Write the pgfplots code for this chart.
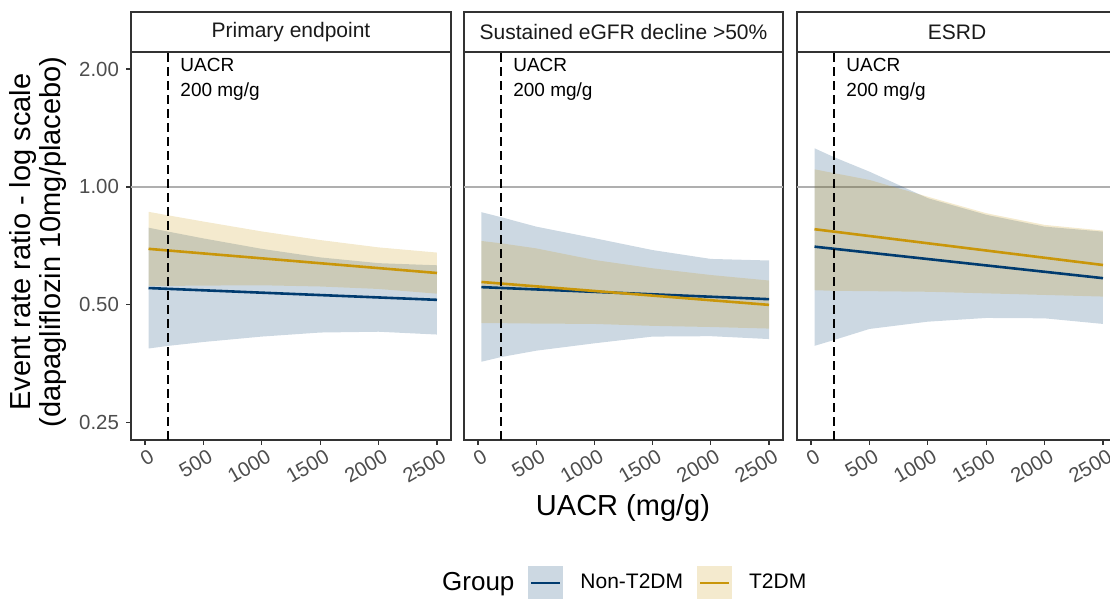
\documentclass[border=0pt]{standalone}
\usepackage{pgfplots}
\pgfplotsset{compat=1.18}
\usepackage{fontspec}
\setmainfont{Liberation Sans}
\definecolor{navyl}{RGB}{0,59,111}
\definecolor{goldl}{RGB}{201,150,10}
\definecolor{tickgray}{RGB}{77,77,77}
\definecolor{framegray}{RGB}{51,51,51}
\definecolor{refgray}{RGB}{175,175,175}
\definecolor{striptext}{RGB}{26,26,26}

\pgfplotsset{
  myfacet/.style={
    scale only axis, width=160pt, height=194pt,
    xmin=-120, xmax=2620, ymin=0.226, ymax=2.21,
    xtick={0,500,1000,1500,2000,2500},
    xticklabels={0,500,1000,1500,2000,2500},
    xtick pos=left, ytick pos=left,
    tick align=outside, major tick length=2.5pt,
    tick style={framegray, line width=0.6pt},
    axis line style={framegray, line width=0.6pt},
    xticklabel style={rotate=30, anchor=north east, xshift=4pt, yshift=1pt, font=\fontsize{10.2}{12}\selectfont, text=tickgray},
    yticklabel style={font=\fontsize{10.2}{12}\selectfont, text=tickgray},
  },
  mybandnavy/.style={draw=none, fill=navyl, fill opacity=0.2, forget plot},
  mybandgold/.style={draw=none, fill=goldl, fill opacity=0.2, forget plot},
  mylinenavy/.style={navyl, line width=1.3pt, forget plot},
  mylinegold/.style={goldl, line width=1.3pt, forget plot},
  myrefline/.style={refgray, line width=0.7pt, forget plot},
  myvdash/.style={black, line width=1pt, dash pattern=on 4.5pt off 2.5pt, forget plot},
}
\newcommand{\uacrnote}{%
  \node[anchor=west, inner sep=0pt, font=\fontsize{9.5}{11}\selectfont] at (axis cs:300,2.05) {UACR};
  \node[anchor=west, inner sep=0pt, font=\fontsize{9.5}{11}\selectfont] at (axis cs:300,1.75) {200 mg/g};
}
\newcommand{\strip}[2]{%
  \draw[framegray, line width=0.6pt, fill=white] (#1.north west) rectangle ([yshift=20pt]#1.north east);
  \node[font=\fontsize{10.5}{12}\selectfont, text=striptext] at ([yshift=10pt]#1.north) {#2};
}

\begin{document}
\begin{tikzpicture}
\useasboundingbox (0,0) rectangle (555pt,299.5pt);
\clip (0,0) rectangle (555pt,299.5pt);

% ---------- Panel 1: Primary endpoint ----------
\begin{axis}[ymode=log, myfacet, name=p1, at={(65.5pt,79.5pt)}, anchor=south west,
  ytick={0.25,0.5,1,2}, yticklabels={0.25,0.50,1.00,2.00}]
\addplot[myrefline] coordinates {(-120,1) (2620,1)};
\addplot[mybandnavy] coordinates {(30,0.787) (200,0.769) (500,0.739) (1000,0.695) (1500,0.661) (2000,0.639) (2500,0.631)
  (2500,0.420) (2000,0.427) (1500,0.425) (1000,0.415) (500,0.402) (200,0.393) (30,0.387)};
\addplot[mybandgold] coordinates {(30,0.864) (200,0.846) (500,0.816) (1000,0.770) (1500,0.732) (2000,0.701) (2500,0.680)
  (2500,0.534) (2000,0.549) (1500,0.557) (1000,0.561) (500,0.560) (200,0.559) (30,0.559)};
\addplot[mylinenavy] coordinates {(30,0.552) (2500,0.515)};
\addplot[mylinegold] coordinates {(30,0.695) (2500,0.603)};
\addplot[myvdash] coordinates {(200,0.226) (200,2.21)};
\uacrnote
\end{axis}
\strip{p1}{Primary endpoint}

% ---------- Panel 2: Sustained eGFR decline ----------
\begin{axis}[ymode=log, myfacet, name=p2, at={(232pt,79.5pt)}, anchor=south west, width=159.5pt,
  ytick=\empty,
  legend style={at={(0.482,-0.3686)}, anchor=center, draw=none, fill=none,
    font=\fontsize{10.5}{12}\selectfont, legend columns=-1,
    /tikz/every odd column/.append style={column sep=6.5pt},
    /tikz/every even column/.append style={column sep=5pt}},
  legend cell align=left]
\addplot[myrefline] coordinates {(-120,1) (2620,1)};
\addplot[mybandnavy] coordinates {(30,0.862) (200,0.837) (500,0.792) (1000,0.740) (1500,0.690) (2000,0.655) (2500,0.649)
  (2500,0.409) (2000,0.416) (1500,0.415) (1000,0.399) (500,0.382) (200,0.368) (30,0.358)};
\addplot[mybandgold] coordinates {(30,0.728) (200,0.718) (500,0.697) (1000,0.651) (1500,0.620) (2000,0.596) (2500,0.577)
  (2500,0.435) (2000,0.439) (1500,0.442) (1000,0.447) (500,0.448) (200,0.449) (30,0.449)};
\addplot[mylinenavy] coordinates {(30,0.555) (2500,0.517)};
\addplot[mylinegold] coordinates {(30,0.572) (2500,0.500)};
\addplot[myvdash] coordinates {(200,0.226) (200,2.21)};
\uacrnote
\addlegendimage{empty legend}
\addlegendentry{\fontsize{13}{15}\selectfont Group}
\addlegendimage{legend image code/.code={%
  \path[draw=none, fill=navyl, fill opacity=0.2] (0pt,-8.75pt) rectangle (17.5pt,8.75pt);
  \path[draw=navyl, line width=1.3pt] (1.5pt,0pt) -- (16pt,0pt);}}
\addlegendentry{Non-T2DM}
\addlegendimage{legend image code/.code={%
  \path[draw=none, fill=goldl, fill opacity=0.2] (0pt,-8.75pt) rectangle (17.5pt,8.75pt);
  \path[draw=goldl, line width=1.3pt] (1.5pt,0pt) -- (16pt,0pt);}}
\addlegendentry{T2DM}
\end{axis}
\strip{p2}{Sustained eGFR decline >50\%}

% ---------- Panel 3: ESRD ----------
\begin{axis}[ymode=log, myfacet, name=p3, at={(398.5pt,79.5pt)}, anchor=south west,
  ytick=\empty]
\addplot[myrefline] coordinates {(-120,1) (2620,1)};
\addplot[mybandnavy] coordinates {(30,1.255) (200,1.190) (500,1.094) (1000,0.936) (1500,0.849) (2000,0.792) (2500,0.769)
  (2500,0.447) (2000,0.462) (1500,0.463) (1000,0.453) (500,0.434) (200,0.407) (30,0.393)};
\addplot[mybandgold] coordinates {(30,1.109) (200,1.084) (500,1.042) (1000,0.944) (1500,0.857) (2000,0.800) (2500,0.774)
  (2500,0.525) (2000,0.530) (1500,0.535) (1000,0.540) (500,0.542) (200,0.543) (30,0.545)};
\addplot[mylinenavy] coordinates {(30,0.704) (2500,0.585)};
\addplot[mylinegold] coordinates {(30,0.780) (2500,0.632)};
\addplot[myvdash] coordinates {(200,0.226) (200,2.21)};
\uacrnote
\end{axis}
\strip{p3}{ESRD}

% ---------- axis titles ----------
\node[font=\fontsize{14.5}{17}\selectfont] at (311.5pt,45.5pt) {UACR (mg/g)};
\node[rotate=90, align=center, font=\fontsize{14.5}{13}\selectfont] at (19pt,178.5pt)
  {Event rate ratio - log scale\\(dapagliflozin 10mg/placebo)};
\end{tikzpicture}
\end{document}
